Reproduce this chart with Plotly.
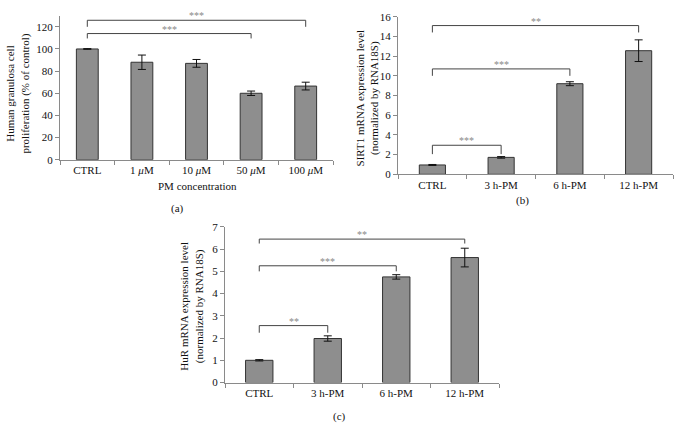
import plotly.graph_objects as go

# ---------------- data ----------------
a_cats = ["CTRL", "1 <i>μ</i>M", "10 <i>μ</i>M", "50 <i>μ</i>M", "100 <i>μ</i>M"]
a_vals = [100, 88, 87, 60, 66.5]
a_errs = [0.3, 6.5, 3.5, 2.0, 3.5]

b_cats = ["CTRL", "3 h-PM", "6 h-PM", "12 h-PM"]
b_vals = [0.95, 1.72, 9.2, 12.55]
b_errs = [0.05, 0.08, 0.2, 1.1]

c_cats = ["CTRL", "3 h-PM", "6 h-PM", "12 h-PM"]
c_vals = [1.0, 1.98, 4.75, 5.62]
c_errs = [0.03, 0.12, 0.1, 0.42]

# brackets: (from-idx, to-idx, bar level, drop level, label)
a_brackets = [(0, 4, 125.9, 120.0, "***"), (0, 3, 113.9, 109.5, "***")]
b_brackets = [(0, 3, 15.1, 14.4, "**"), (0, 2, 10.7, 10.0, "***"), (0, 1, 2.95, 2.05, "***")]
c_brackets = [(0, 3, 6.45, 6.25, "**"), (0, 2, 5.25, 5.0, "***"), (0, 1, 2.56, 2.24, "**")]

FONT = "Liberation Serif"
BAR = "#8e8e8e"
AX = "#8a8a8a"

fig = go.Figure()

panels = [
    ("x", "y", a_cats, a_vals, a_errs, a_brackets, 0.40),
    ("x2", "y2", b_cats, b_vals, b_errs, b_brackets, 0.38),
    ("x3", "y3", c_cats, c_vals, c_errs, c_brackets, 0.40),
]

shapes = []
annotations = []
for xa, ya, cats, vals, errs, brs, w in panels:
    fig.add_trace(go.Bar(
        x=cats, y=vals, xaxis=xa, yaxis=ya, width=w,
        marker=dict(color=BAR, line=dict(color="#333333", width=1)),
        error_y=dict(type="data", array=errs, color="#111111", thickness=1, width=4),
        showlegend=False,
    ))
    for i0, i1, top, drop, lab in brs:
        x0, x1 = cats[i0], cats[i1]
        for (xs, ys) in [((x0, x0), (drop, top)), ((x0, x1), (top, top)), ((x1, x1), (top, drop))]:
            shapes.append(dict(type="line", xref=xa, yref=ya, x0=xs[0], x1=xs[1],
                               y0=ys[0], y1=ys[1], line=dict(color="#444444", width=1)))
        annotations.append(dict(xref=xa, yref=ya, x=(i0 + i1) / 2, y=top, text=lab,
                                showarrow=False, yanchor="bottom", yshift=-3,
                                font=dict(family=FONT, size=10, color="#888888")))

W, H = 678, 444
def dx(p0, p1):
    return [p0 / W, p1 / W]
def dy(top, bottom):
    return [1 - bottom / H, 1 - top / H]

axis_common = dict(showline=True, linecolor=AX, linewidth=1, ticks="outside",
                   tickcolor=AX, ticklen=4, showgrid=False, zeroline=False,
                   tickfont=dict(family=FONT, size=11, color="#111111"), fixedrange=True)

fig.update_layout(
    width=W, height=H, margin=dict(l=0, r=0, t=0, b=0),
    paper_bgcolor="white", plot_bgcolor="white",
    font=dict(family=FONT, size=11, color="#111111"),
    xaxis=dict(domain=dx(60, 333), anchor="y", type="category", tickson="boundaries",
               range=[-0.5, 4.5], **axis_common),
    yaxis=dict(domain=dy(10, 158), anchor="x", range=[0, 130],
               tickvals=[0, 20, 40, 60, 80, 100, 120], **axis_common),
    xaxis2=dict(domain=dx(398, 673), anchor="y2", type="category", tickson="boundaries",
                range=[-0.5, 3.5], **axis_common),
    yaxis2=dict(domain=dy(11, 173), anchor="x2", range=[0, 16], dtick=2, **axis_common),
    xaxis3=dict(domain=dx(225, 499), anchor="y3", type="category", tickson="boundaries",
                range=[-0.5, 3.5], **axis_common),
    yaxis3=dict(domain=dy(227, 387), anchor="x3", range=[0, 7], dtick=1, **axis_common),
    shapes=shapes,
)

def pa(text, px, py, angle=0, size=11):
    annotations.append(dict(xref="paper", yref="paper", x=px / W, y=1 - py / H, text=text,
                            showarrow=False, textangle=angle, xanchor="center", yanchor="middle",
                            font=dict(family=FONT, size=size, color="#111111")))

pa("Human granulosa cell<br>proliferation (% of control)", 18, 90, -90)
pa("PM concentration", 197, 185)
pa("(a)", 177, 208)
pa("SIRT1 mRNA expression level<br>(normalized by RNA18S)", 367, 95, -90)
pa("(b)", 522, 200)
pa("HuR mRNA expression level<br>(normalized by RNA18S)", 192, 309, -90)
pa("(c)", 339, 422)

fig.update_layout(annotations=annotations)
fig.write_html("out.html", config={"displayModeBar": False, "staticPlot": True},
               post_script="document.body.style.margin='0';document.body.style.overflow='hidden';")
